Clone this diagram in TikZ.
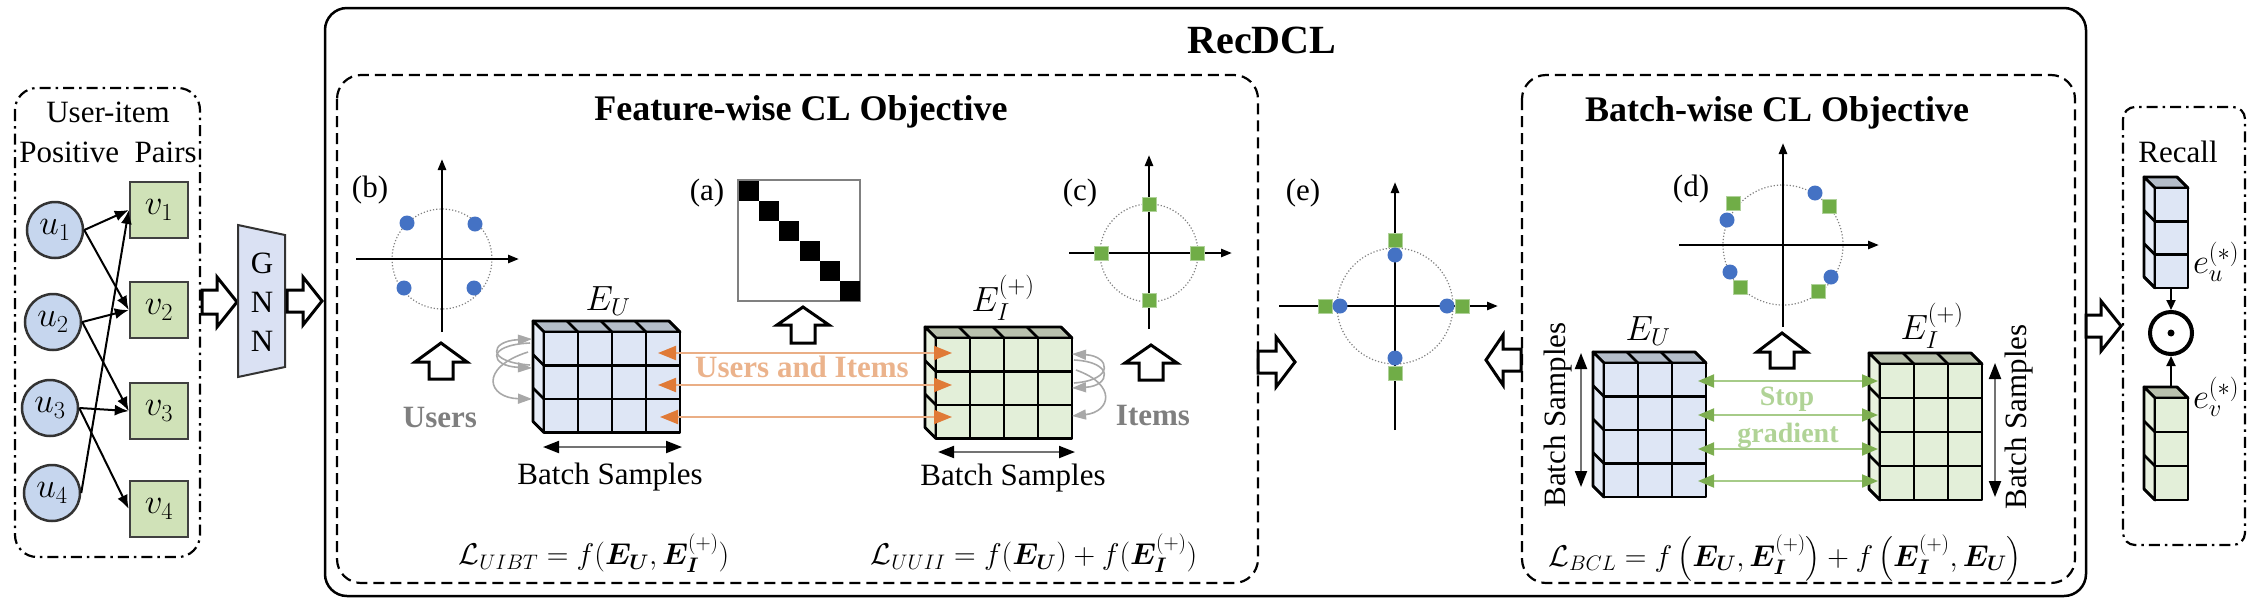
\RequirePackage{fix-cm}
\documentclass[tikz,border=0pt]{standalone}
\usepackage{amsmath}
\usepackage{bm}
\usepackage{fontspec}
\setmainfont{Liberation Serif}
\usetikzlibrary{arrows.meta}
\definecolor{ublue}{HTML}{C6D6EE}
\definecolor{vgreen}{HTML}{D0E2B8}
\definecolor{gnnfill}{HTML}{DAE1F3}
\definecolor{cbfront}{HTML}{DEE6F5}
\definecolor{cbtop}{HTML}{B4BDC9}
\definecolor{cbside}{HTML}{E6ECF7}
\definecolor{cgfront}{HTML}{E3EFD9}
\definecolor{cgtop}{HTML}{B9C1AD}
\definecolor{cgside}{HTML}{E8F1DF}
\definecolor{dotblue}{HTML}{4472C4}
\definecolor{sqgreen}{HTML}{70AD47}
\definecolor{orangeT}{HTML}{E07A37}
\definecolor{orangeL}{HTML}{EAAE85}
\definecolor{orangeTxt}{HTML}{EBB38C}
\definecolor{greenT}{HTML}{7DAE50}
\definecolor{greenL}{HTML}{A6CB88}
\definecolor{greenTxt}{HTML}{B0D396}
\definecolor{grayTxt}{HTML}{7F7F7F}
\definecolor{grayArr}{HTML}{A8A8A8}
\newcommand\fsA{\fontsize{31}{37}\selectfont}
\newcommand\fsT{\fontsize{36}{42}\selectfont}
\newcommand\fsS{\fontsize{28}{33}\selectfont}
\newcommand\fsM{\fontsize{30}{36}\selectfont}
\newcommand\fsL{\fontsize{35}{40}\selectfont}
\newcommand\rarrow[6]{\draw[blockarrow] ({#1},{#3-#6}) -- ({#2-(#4)},{#3-#6}) -- ({#2-(#4)},{#3-#5}) -- ({#2},{#3}) -- ({#2-(#4)},{#3+#5}) -- ({#2-(#4)},{#3+#6}) -- ({#1},{#3+#6}) -- cycle;}
\newcommand\uarrow[6]{\draw[blockarrow] ({#1-#6},{#2}) -- ({#1-#6},{#3+#4}) -- ({#1-#5},{#3+#4}) -- ({#1},{#3}) -- ({#1+#5},{#3+#4}) -- ({#1+#6},{#3+#4}) -- ({#1+#6},{#2}) -- cycle;}
\newcommand\drawcube[9]{%
\pgfmathsetmacro\cubeW{#3*#5}%
\pgfmathsetmacro\cubeH{#4*#6}%
\filldraw[fill=#8,cubeline] (#1,#2) -- ++(\cubeW,0) -- ++(-11,-11) -- ++(-\cubeW,0) -- cycle;
\filldraw[fill=#9,cubeline] (#1,#2) -- ++(-11,-11) -- ++(0,\cubeH) -- ++(11,11) -- cycle;
\filldraw[fill=#7,cubeline] (#1,#2) rectangle ++(\cubeW,\cubeH);
\foreach \i in {1,...,#3} {\draw[cubeline] ({#1+\i*#5},{#2}) -- ++(0,\cubeH); \draw[cubeline] ({#1+\i*#5},{#2}) -- ++(-11,-11);}
\foreach \j in {1,...,#4} {\draw[cubeline] ({#1},{#2+\j*#6}) -- ++(\cubeW,0); \draw[cubeline] ({#1},{#2+\j*#6}) -- ++(-11,-11);}
}
\newcommand\gsq[2]{\filldraw[fill=sqgreen, draw=sqgreen!55!white, line width=1pt] ({#1-7},{#2-7}) rectangle ({#1+7},{#2+7});}
\newcommand\bdot[2]{\fill[dotblue] (#1,#2) circle (7.5pt);}
\tikzset{
 unode/.style={circle, draw=black!80, line width=2.5pt, fill=ublue, minimum size=56pt, inner sep=0pt, font=\fsL},
 vnode/.style={rectangle, draw=black!75, line width=2.5pt, fill=vgreen, minimum width=58pt, minimum height=56pt, inner sep=0pt, font=\fsL},
 edge/.style={line width=2pt, -{Latex[length=14pt,width=11pt]}},
 blockarrow/.style={draw=black, line width=3pt, fill=white, line join=miter},
 cubeline/.style={line width=2.8pt, draw=black, line join=round},
 axis/.style={line width=2.5pt, -{Triangle[length=11pt,width=8pt]}},
 ucircle/.style={draw=gray, dotted, line width=1.2pt},
 ga/.style={draw=grayArr, line width=1.6pt, -{Triangle[length=14pt,width=10pt]}},
 oarr/.style={draw=orangeL, line width=2pt, {Triangle[length=18pt,width=14pt,color=orangeT]}-{Triangle[length=18pt,width=14pt,color=orangeT]}},
 garr/.style={draw=greenL, line width=2pt, {Triangle[length=16pt,width=13pt,color=greenT]}-{Triangle[length=16pt,width=13pt,color=greenT]}},
 bsarr/.style={draw=black!55, line width=2pt, {Triangle[length=16pt,width=12pt,black]}-{Triangle[length=16pt,width=12pt,black]}},
 dashbox/.style={draw=black, line width=2.2pt, dash pattern=on 11pt off 6pt, rounded corners=24pt},
 dotdashbox/.style={draw=black, line width=2.2pt, dash pattern=on 11pt off 5pt on 2.5pt off 5pt, rounded corners=22pt},
 mathlbl/.style={font=\fsM, inner sep=0pt},
 biglbl/.style={font=\fsL, inner sep=0pt},
}
\begin{document}
\begin{tikzpicture}[x=1pt,y=-1pt,font=\fsA]
\useasboundingbox (0,0) rectangle (2268,614);
% ---------------- left panel
\draw[dotdashbox] (15,88) rectangle (200,557);
\node (ui1) at (108,112) {User-item};
\node (ui2) at (108,152) {Positive\ \ Pairs};
\node[unode] (u1) at (55,230) {$u_1$};
\node[unode] (u2) at (53,322) {$u_2$};
\node[unode] (u3) at (50,408) {$u_3$};
\node[unode] (u4) at (52,493) {$u_4$};
\node[vnode] (v1) at (159,210) {$v_1$};
\node[vnode] (v2) at (159,310) {$v_2$};
\node[vnode] (v3) at (159,411) {$v_3$};
\node[vnode] (v4) at (159,509) {$v_4$};
\draw[edge] (u1.east) -- (v1.west);
\draw[edge] (u1.east) -- (v2.west);
\draw[edge] (u2.east) -- (v2.west);
\draw[edge] (u2.east) -- (v3.west);
\draw[edge] (u3.east) -- (v3.west);
\draw[edge] (u3.east) -- (v4.west);
\draw[edge] (u4.east) -- (v1.west);
% GNN
\rarrow{202}{237}{302}{20}{25}{12}
\filldraw[fill=gnnfill, draw=black!80, line width=2pt] (238,225) -- (285,235) -- (285,367) -- (238,377) -- cycle;
\node[align=center, inner sep=0pt, font=\fontsize{31}{39}\selectfont] (gnn) at (262,302) {G\\N\\N};
\rarrow{287}{322}{301}{19}{24}{11}
% ---------------- RecDCL
\draw[line width=2.5pt, rounded corners=22pt] (325,8) rectangle (2086,596);
\node[font=\fontsize{40}{46}\selectfont\bfseries] (title) at (1262,40) {RecDCL};
% ---------------- Feature-wise
\draw[dashbox] (337,75) rectangle (1258,583);
\node[font=\fsT\bfseries] (fwt) at (801,112) {Feature-wise CL Objective};
% (b)
\draw[ucircle] (442,259) circle (50pt);
\draw[axis] (356,259) -- (519,259);
\draw[axis] (442,332) -- (442,159);
\bdot{407}{223}\bdot{475}{224}\bdot{404}{288}\bdot{474}{288}
\node (lb) at (370,190) {(b)};
\uarrow{441}{379}{343}{19}{26}{12}
\node[font=\fsA\bfseries, text=grayTxt] (users) at (440,417) {Users};
% E_U cube
\drawcube{544}{332}{4}{3}{34}{33.5}{cbfront}{cbtop}{cbside}
\node[biglbl] (eu1) at (608,301) {$E_U$};
\draw[ga] (530,343) .. controls (485,345) and (490,366) .. (532,368);
\draw[ga] (530,365) .. controls (485,362) and (490,341) .. (532,339);
\draw[ga] (528,352) .. controls (478,368) and (488,398) .. (532,399);
\draw[bsarr] (543,447) -- (682,447);
\node (bs1) at (610,477) {Batch Samples};
% (a)
\draw[draw=gray, line width=2pt] (738,180) rectangle (860,301);
\foreach \k in {0,...,5} {\fill[black] ({739+\k*20.17},{181+\k*20}) rectangle ++(20,20);}
\node (la) at (707,193) {(a)};
\uarrow{803}{343}{307}{18}{26}{12}
% E_I cube
\drawcube{936}{338}{4}{3}{34}{33.5}{cgfront}{cgtop}{cgside}
\node[biglbl] (ei1) at (1003,298) {$E_I^{(+)}$};
\draw[ga] (1074,360) .. controls (1115,362) and (1110,386) .. (1072,388);
\draw[ga] (1074,383) .. controls (1115,380) and (1110,356) .. (1072,354);
\draw[ga] (1076,370) .. controls (1118,385) and (1110,412) .. (1072,416);
\draw[bsarr] (938,452) -- (1075,452);
\node (bs2) at (1013,478) {Batch Samples};
% orange
\draw[oarr] (658,353) -- (952,353);
\draw[oarr] (658,385) -- (952,385);
\draw[oarr] (660,417) -- (952,417);
\node[font=\fsA\bfseries, text=orangeTxt] (uai) at (802,367) {Users and Items};
% (c)
\draw[ucircle] (1149,253) circle (49pt);
\draw[axis] (1069,253) -- (1232,253);
\draw[axis] (1149,329) -- (1149,155);
\gsq{1149}{204}\gsq{1101}{253}\gsq{1197}{253}\gsq{1149}{300}
\node (lc) at (1080,193) {(c)};
\uarrow{1151}{380}{345}{18}{26}{12}
\node[font=\fsA\bfseries, text=grayTxt] (items) at (1153,415) {Items};
% formulas
\node[mathlbl] (f1) at (594,553) {$\mathcal{L}_{UIBT}=f(\bm{E}_{\bm{U}},\bm{E}_{\bm{I}}^{(+)})$};
\node[mathlbl] (f2) at (1034,553) {$\mathcal{L}_{UUII}=f(\bm{E}_{\bm{U}})+f(\bm{E}_{\bm{I}}^{(+)})$};
% ---------------- (e)
\draw[ucircle] (1395,306) circle (58pt);
\draw[axis] (1279,306) -- (1498,306);
\draw[axis] (1395,430) -- (1395,182);
\gsq{1395}{240}\gsq{1395}{373}\gsq{1325}{306}\gsq{1462}{306}
\bdot{1395}{255}\bdot{1395}{358}\bdot{1340}{306}\bdot{1447}{306}
\node (le) at (1303,193) {(e)};
\rarrow{1258}{1295}{362}{19}{25}{11}
\rarrow{1521}{1486}{360}{-17}{25}{11}
% ---------------- Batch-wise
\draw[dashbox] (1522,75) rectangle (2075,583);
\node[font=\fsT\bfseries] (bwt) at (1777,113) {Batch-wise CL Objective};
\draw[ucircle] (1783,245) circle (60pt);
\draw[axis] (1679,245) -- (1879,245);
\draw[axis] (1783,327) -- (1783,143);
\gsq{1733}{203}\gsq{1829}{206}\gsq{1740}{287}\gsq{1818}{291}
\bdot{1727}{220}\bdot{1815}{193}\bdot{1730}{272}\bdot{1831}{277}
\node (ld) at (1691,189) {(d)};
\uarrow{1782}{368}{333}{19}{25}{12}
\drawcube{1604}{363}{3}{4}{34}{33.5}{cbfront}{cbtop}{cbside}
\node[biglbl] (eu2) at (1648,331) {$E_U$};
\drawcube{1880}{364}{3}{4}{34}{34}{cgfront}{cgtop}{cgside}
\node[biglbl] (ei2) at (1932,326) {$E_I^{(+)}$};
\draw[garr] (1698,381) -- (1878,381);
\draw[garr] (1698,415) -- (1878,415);
\draw[garr] (1698,449) -- (1878,449);
\draw[garr] (1698,481) -- (1878,481);
\node[font=\fsS\bfseries, text=greenTxt] (stop) at (1787,399) {Stop};
\node[font=\fsS\bfseries, text=greenTxt] (grad) at (1788,436) {gradient};
\draw[bsarr] (1581,353) -- (1581,487);
\node[rotate=90] (bs3) at (1558,415) {Batch Samples};
\draw[bsarr] (1995,363) -- (1995,497);
\node[rotate=90] (bs4) at (2019,417) {Batch Samples};
\node[mathlbl] (f3) at (1785,558) {$\mathcal{L}_{BCL}=f\left(\bm{E}_{\bm{U}},\bm{E}_{\bm{I}}^{(+)}\right)+f\left(\bm{E}_{\bm{I}}^{(+)},\bm{E}_{\bm{U}}\right)$};
% ---------------- Recall
\rarrow{2086}{2121}{326}{20}{25}{11}
\draw[dotdashbox, rounded corners=12pt] (2123,107) rectangle (2245,545);
\node (rec) at (2178,152) {Recall};
\drawcube{2155}{188}{1}{3}{33}{33.3}{cbfront}{cbtop}{cbside}
\drawcube{2155}{398}{1}{3}{33}{34}{cgfront}{cgtop}{cgside}
\coordinate (ubot) at (2171,288);
\coordinate (itop) at (2171,386);
\node[circle, draw=black, line width=4pt, minimum size=42pt, inner sep=0pt] (odot) at (2171,333) {};
\fill (odot.center) circle (3.5pt);
\draw[line width=2pt, -{Triangle[length=10pt,width=9pt]}] (ubot) -- (odot.north);
\draw[line width=2pt, -{Triangle[length=10pt,width=9pt]}] (itop) -- (odot.south);
\node[biglbl] (eu3) at (2216,262) {$e_u^{(*)}$};
\node[biglbl] (ev3) at (2216,397) {$e_v^{(*)}$};
\end{tikzpicture}
\end{document}
